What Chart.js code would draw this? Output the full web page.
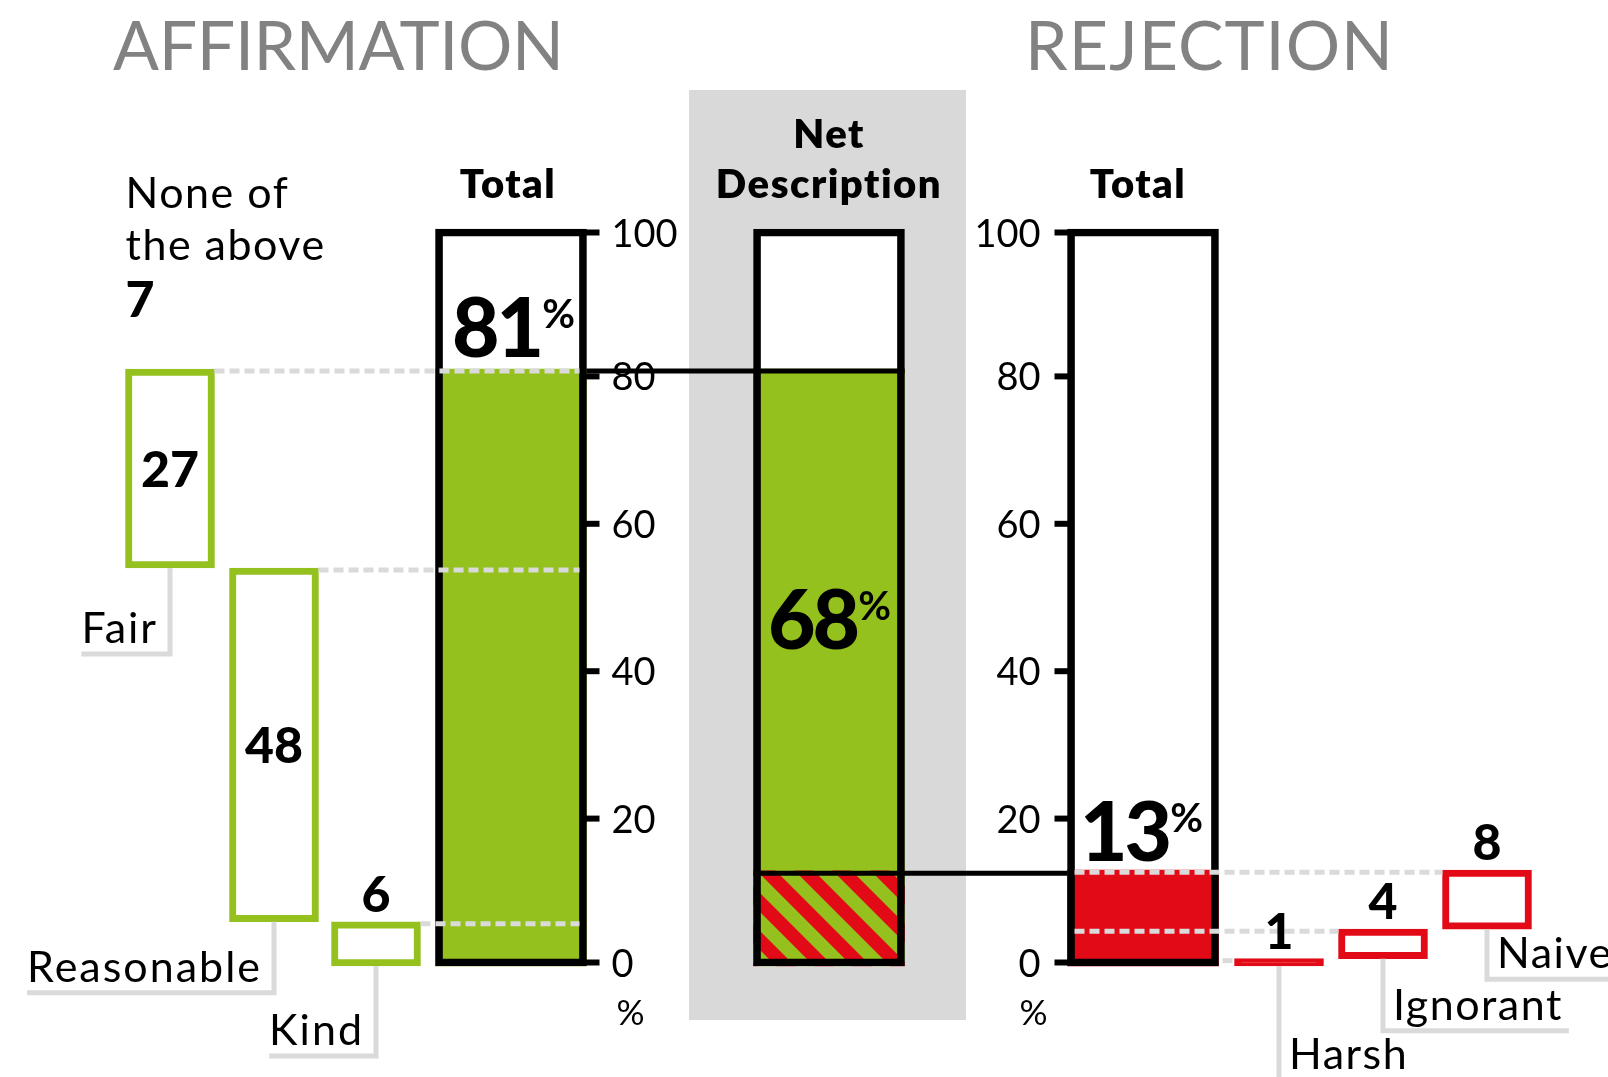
<!DOCTYPE html>
<html>
<head>
<meta charset="utf-8">
<script src="https://cdn.jsdelivr.net/npm/chart.js@4.4.1/dist/chart.umd.min.js"></script>
<style>
html, body { margin: 0; padding: 0; background: #fff; }
#wrap { width: 1608px; height: 1077px; }
</style>
</head>
<body>
<div id="wrap"><canvas id="chart" width="1608" height="1077"></canvas></div>
<script>
/* Affirmation vs rejection — waterfall boxes feeding two totals and a net bar */

// values
var affLabels = ['Fair', 'Reasonable', 'Kind'];
var affValues = [27, 48, 6];
var rejLabels = ['Harsh', 'Ignorant', 'Naive'];
var rejValues = [1, 4, 8];
var noneLabel = ['None of', 'the above'];
var noneValue = 7;
var yTicks = [0, 20, 40, 60, 80, 100];

// layout: column centres on the x scale, leader drop below each small box
var affX = [170, 274, 376];
var rejX = [1279, 1383, 1487];
var totalAffX = 511, netX = 829, totalRejX = 1143;
var affDrop = [86, 71, 90];
var rejDrop = [114, 72, 50];
var BIG = 151, SMALL = 89;

var GREEN = '#95c11f', RED = '#e30a17', PALE = '#dadada', GREY = '#828282';
var FONT = 'Lato, "Open Sans", sans-serif';

var sum = function (a) { return a.reduce(function (s, v) { return s + v; }, 0); };
var affTotal = sum(affValues);
var rejTotal = sum(rejValues);
var netValue = affTotal - rejTotal;

// waterfall ranges: affirmation stacks down from the total, rejection up from zero
var affRanges = [], level = affTotal;
affValues.forEach(function (v) { affRanges.push([level - v, level]); level -= v; });
var rejRanges = [], floor = 0;
rejValues.forEach(function (v) { rejRanges.push([floor, floor + v]); floor += v; });

function cols(xs, ranges) {
    return ranges.map(function (r, i) { return { x: xs[i], y: r }; });
}

function makeHatch() {
    var s = 38, c = document.createElement('canvas');
    c.width = c.height = s;
    var g = c.getContext('2d');
    g.fillStyle = GREEN; g.fillRect(0, 0, s, s);
    g.fillStyle = RED;
    g.beginPath(); g.moveTo(0, 0); g.lineTo(s / 2, 0); g.lineTo(s, s / 2); g.lineTo(s, s); g.closePath(); g.fill();
    g.beginPath(); g.moveTo(0, s / 2); g.lineTo(s / 2, s); g.lineTo(0, s); g.closePath(); g.fill();
    return g.createPattern(c, 'repeat');
}

function text(ctx, s, x, y, font, color, align, spacing) {
    ctx.font = font;
    ctx.fillStyle = color || '#000';
    ctx.textAlign = align || 'left';
    ctx.textBaseline = 'alphabetic';
    ctx.letterSpacing = spacing || '0px';
    ctx.fillText(s, x, y);
    ctx.letterSpacing = '0px';
}

// text spread to a given width
function spread(ctx, s, left, y, width, font, color) {
    ctx.font = font;
    ctx.letterSpacing = '0px';
    var n = ctx.measureText(s).width;
    var ls = (width - n) / (s.length - 1);
    text(ctx, s, left, y, font, color, 'left', ls.toFixed(2) + 'px');
}

function percent(ctx, v, cx, baseline) {
    ctx.font = '900 82px ' + FONT;
    ctx.letterSpacing = '-3px';
    var w1 = ctx.measureText(String(v)).width;
    ctx.letterSpacing = '0px';
    ctx.font = '700 40px ' + FONT;
    var w2 = ctx.measureText('%').width;
    var left = cx - (w1 + w2) / 2;
    text(ctx, String(v), left, baseline, '900 82px ' + FONT, '#000', 'left', '-3px');
    text(ctx, '%', left + w1 + 1, baseline - 29, '700 40px ' + FONT, '#000');
}

function line(ctx, pts, color, width, dash) {
    ctx.save();
    ctx.strokeStyle = color; ctx.lineWidth = width;
    ctx.setLineDash(dash || []);
    ctx.lineJoin = 'miter'; ctx.lineCap = 'butt';
    ctx.beginPath();
    ctx.moveTo(pts[0][0], pts[0][1]);
    for (var i = 1; i < pts.length; i++) ctx.lineTo(pts[i][0], pts[i][1]);
    ctx.stroke();
    ctx.restore();
}

var panel = {
    id: 'panel',
    beforeDatasetsDraw: function (chart) {
        var ctx = chart.ctx, x = chart.scales.x;
        ctx.save();
        ctx.fillStyle = '#d9d9d9';
        ctx.fillRect(x.getPixelForValue(netX) - 140, 90, 277, 930);
        ctx.restore();
    }
};

var decor = {
    id: 'decor',
    afterDatasetsDraw: function (chart) {
        var ctx = chart.ctx, x = chart.scales.x, y = chart.scales.y;
        var ay = chart.chartArea;
        var affR = x.getPixelForValue(totalAffX) + BIG / 2;
        var rejL = x.getPixelForValue(totalRejX) - BIG / 2;
        var netL = x.getPixelForValue(netX) - BIG / 2, netR = netL + BIG;

        // dashed guides from the top of each small box into its total
        affRanges.forEach(function (r, i) {
            var py = y.getPixelForValue(r[1]) + 2;
            line(ctx, [[x.getPixelForValue(affX[i]) + SMALL / 2, py], [affR - 7, py]], PALE, 5, [10, 5]);
        });
        rejRanges.forEach(function (r, i) {
            var py = y.getPixelForValue(r[1]) + 2;
            var from = (ay.bottom - py < 10) ? rejL + BIG + 4 : rejL + 7;
            line(ctx, [[from, py], [x.getPixelForValue(rejX[i]) - SMALL / 2, py]], PALE, 5, [10, 5]);
        });

        // black connectors into the net bar
        var y1 = y.getPixelForValue(affTotal) + 2;
        line(ctx, [[affR, y1], [netR, y1]], '#000', 5);
        var y2 = y.getPixelForValue(rejTotal) + 3;
        line(ctx, [[netL, y2], [rejL, y2]], '#000', 5);

        // axes: ticks on the outer sides of the two totals
        var ticks = (y.ticks && y.ticks.length) ? y.ticks.map(function (t) { return t.value; }) : yTicks;
        ticks.forEach(function (v) {
            var py = Math.min(Math.max(y.getPixelForValue(v), ay.top + 3.5), ay.bottom - 3.5);
            line(ctx, [[affR - 4, py], [affR + 13, py]], '#000', 6);
            line(ctx, [[rejL - 13, py], [rejL + 4, py]], '#000', 6);
            text(ctx, String(v), affR + 25, py + 14, '400 38px ' + FONT, '#000', 'left');
            text(ctx, String(v), rejL - 27, py + 14, '400 38px ' + FONT, '#000', 'right');
        });
        text(ctx, '%', affR + 44, ay.bottom + 59, '400 35px ' + FONT, '#000', 'center');
        text(ctx, '%', rejL - 34, ay.bottom + 59, '400 35px ' + FONT, '#000', 'center');

        // leader lines and category labels
        var labFont = '400 43px ' + FONT;
        affRanges.forEach(function (r, i) {
            var cx = x.getPixelForValue(affX[i]), by = y.getPixelForValue(r[0]);
            var ly = by + affDrop[i];
            ctx.font = labFont; ctx.letterSpacing = '2px';
            var w = ctx.measureText(affLabels[i]).width;
            ctx.letterSpacing = '0px';
            line(ctx, [[cx, by], [cx, ly], [cx - 12 - w, ly]], PALE, 5);
            text(ctx, affLabels[i], cx - 12 - w, ly - 11, labFont, '#000', 'left', '2px');
        });
        rejRanges.forEach(function (r, i) {
            var cx = x.getPixelForValue(rejX[i]), by = y.getPixelForValue(r[0]);
            var ly = by + rejDrop[i];
            ctx.font = labFont; ctx.letterSpacing = '1.5px';
            var w = ctx.measureText(rejLabels[i]).width;
            ctx.letterSpacing = '0px';
            line(ctx, [[cx, by], [cx, ly], [cx + 12 + w + 4, ly]], PALE, 5);
            text(ctx, rejLabels[i], cx + 10, ly - 11, labFont, '#000', 'left', '1.5px');
        });

        // values on the small boxes
        function valueLabel(v, cx, r) {
            var t = y.getPixelForValue(r[1]), b = y.getPixelForValue(r[0]);
            var by = (b - t > 80) ? (t + b) / 2 + 18 : t - 10;
            text(ctx, String(v), cx, by, '900 50px ' + FONT, '#000', 'center');
        }
        affValues.forEach(function (v, i) { valueLabel(v, x.getPixelForValue(affX[i]), affRanges[i]); });
        rejValues.forEach(function (v, i) { valueLabel(v, x.getPixelForValue(rejX[i]), rejRanges[i]); });

        // big percentages
        percent(ctx, affTotal, x.getPixelForValue(totalAffX) + 2, y.getPixelForValue(affTotal) - 12);
        percent(ctx, netValue, x.getPixelForValue(netX), y.getPixelForValue((affTotal + rejTotal) / 2) + 29);
        percent(ctx, rejTotal, x.getPixelForValue(totalRejX) - 2, y.getPixelForValue(rejTotal) - 9);

        // headings
        spread(ctx, 'AFFIRMATION', 113, 70, 451, '400 68px ' + FONT, GREY);
        spread(ctx, 'REJECTION', 1025, 70, 368, '400 68px ' + FONT, GREY);
        text(ctx, 'Total', x.getPixelForValue(totalAffX) - 3, 198, '800 40px ' + FONT, '#000', 'center', '1.5px');
        text(ctx, 'Total', x.getPixelForValue(totalRejX) - 5, 198, '800 40px ' + FONT, '#000', 'center', '1.5px');
        text(ctx, 'Net', x.getPixelForValue(netX), 148, '800 40px ' + FONT, '#000', 'center', '1.5px');
        text(ctx, 'Description', x.getPixelForValue(netX), 198, '800 40px ' + FONT, '#000', 'center', '1.5px');

        // "None of the above" note over the first box
        var nx = x.getPixelForValue(affX[0]) - SMALL / 2;
        text(ctx, noneLabel[0], nx, 208, '400 43px ' + FONT, '#000', 'left', '1.5px');
        text(ctx, noneLabel[1], nx, 260, '400 43px ' + FONT, '#000', 'left', '1.5px');
        text(ctx, String(noneValue), nx, 317, '900 50px ' + FONT, '#000', 'left');
    }
};

var frame = [{ x: totalAffX, y: [0, 100] }, { x: netX, y: [0, 100] }, { x: totalRejX, y: [0, 100] }];

// thin boxes (under ~2 points) read as a solid stroke
function boxFill(c) {
    var r = c.raw && c.raw.y;
    return (r && r[1] - r[0] < 2) ? RED : '#fff';
}

new Chart(document.getElementById('chart'), {
    type: 'bar',
    data: {
        datasets: [
            { label: 'Box', data: frame, backgroundColor: '#fff', borderWidth: 0, barThickness: BIG, order: 4 },
            {
                label: 'Total',
                data: [{ x: totalAffX, y: [0, affTotal] }, { x: netX, y: [rejTotal, affTotal] }, { x: totalRejX, y: [0, rejTotal] }],
                backgroundColor: [GREEN, GREEN, RED], borderWidth: 0, barThickness: BIG, order: 3
            },
            { label: 'Overlap', data: [{ x: netX, y: [0, rejTotal] }], backgroundColor: makeHatch(), borderWidth: 0, barThickness: BIG, order: 3 },
            { label: 'Affirmation', data: cols(affX, affRanges), backgroundColor: '#fff', borderColor: GREEN, borderWidth: 7, borderSkipped: false, barThickness: SMALL, order: 2 },
            { label: 'Rejection', data: cols(rejX, rejRanges), backgroundColor: boxFill, borderColor: RED, borderWidth: 7, borderSkipped: false, barThickness: SMALL, order: 2 },
            { label: 'Frame', data: frame, backgroundColor: 'rgba(0,0,0,0)', borderColor: '#000', borderWidth: 7, borderSkipped: false, barThickness: BIG, order: 1 }
        ]
    },
    options: {
        responsive: false,
        animation: false,
        events: [],
        datasets: { bar: { grouped: false, clip: false } },
        layout: { padding: { top: 229, bottom: 111, left: 0, right: 0 } },
        plugins: { legend: { display: false }, tooltip: { enabled: false } },
        scales: {
            x: { type: 'linear', min: 0, max: 1608, offset: false, display: false },
            y: { type: 'linear', min: 0, max: 100, display: false, ticks: { stepSize: 20 } }
        }
    },
    plugins: [panel, decor]
});
</script>
</body>
</html>
